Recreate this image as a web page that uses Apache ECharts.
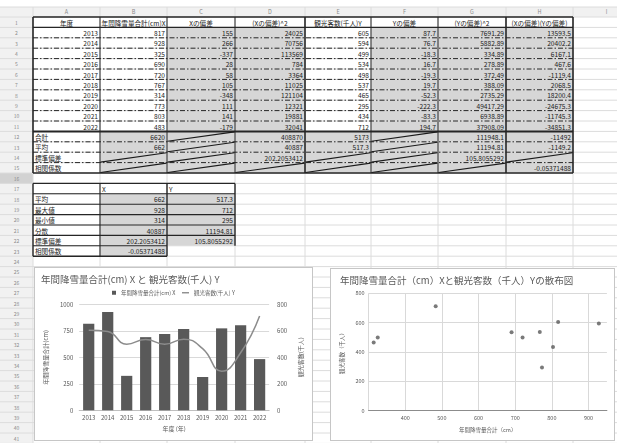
<!DOCTYPE html>
<html>
<head>
<meta charset="utf-8">
<script src="https://cdn.jsdelivr.net/npm/echarts@6.0.0/dist/echarts.min.js"></script>
<style>
  html, body { margin: 0; padding: 0; background: #fff; }
  body { width: 617px; height: 443px; overflow: hidden; position: relative; font-family: "Noto Sans CJK JP", "Noto Sans", sans-serif; }
  #sheet { position: absolute; left: 0; top: 0; }
  .chartBox { position: absolute; box-sizing: border-box; border: 1px solid #c6c6c6; background: #fff; }
  .chartBox > div { position: absolute; left: 0; top: 0; right: 0; bottom: 0; }
</style>
</head>
<body>
<svg id="sheet" width="617" height="443" xmlns="http://www.w3.org/2000/svg"></svg>
<div class="chartBox" style="left:34px;top:267px;width:279px;height:174px;"><div id="combo"></div></div>
<div class="chartBox" style="left:330px;top:268px;width:285px;height:173px;"><div id="scatter"></div></div>

<script>
// ---- data ----
const years = [2013, 2014, 2015, 2016, 2017, 2018, 2019, 2020, 2021, 2022];
const snowfall = [817, 928, 325, 690, 720, 767, 314, 773, 803, 483];      // 年間降雪量合計(cm) X
const visitors = [605, 594, 499, 534, 498, 537, 465, 295, 434, 712];      // 観光客数(千人) Y

const headerLabels = ['年度', '年間降雪量合計(cm)X', 'Xの偏差', '(Xの偏差)^2', '観光客数(千人)Y', 'Yの偏差', '(Yの偏差)^2', '(Xの偏差)(Yの偏差)'];
const summaryLabels = ['合計', '平均', '標準偏差', '相関係数'];
const statLabels = ['平均', '最大値', '最小値', '分散', '標準偏差', '相関係数'];
const colLetters = ['A', 'B', 'C', 'D', 'E', 'F', 'G', 'H', 'I'];

const snowTicks = { min: 0, max: 1000, interval: 250 };
const visitorTicks = { min: 0, max: 800, interval: 200 };
const scatterXTicks = { min: 300, max: 950, interval: 100 };

const FONT = '"Noto Sans CJK JP", "Noto Sans", sans-serif';
const S1 = '年間降雪量合計(cm) X';
const S2 = '観光客数(千人) Y';

// ---- worksheet statistics ----
const clean = v => parseFloat(v.toPrecision(12));
const n = years.length;
const sum = a => clean(a.reduce((s, v) => s + v, 0));
const meanX = clean(sum(snowfall) / n), meanY = clean(sum(visitors) / n);
const dx = snowfall.map(v => clean(v - meanX));
const dy = visitors.map(v => clean(v - meanY));
const dx2 = dx.map(v => clean(v * v));
const dy2 = dy.map(v => clean(v * v));
const dxy = dx.map((v, i) => clean(v * dy[i]));
const varX = clean(sum(dx2) / n), varY = clean(sum(dy2) / n), cov = clean(sum(dxy) / n);
const sdX = Math.sqrt(varX), sdY = Math.sqrt(varY);
const corr = cov / (sdX * sdY);

function fmt(v) {
  let s = String(clean(v));
  if (s.length > 11) {
    const intLen = String(Math.trunc(Math.abs(v))).length + (v < 0 ? 1 : 0);
    const dec = Math.max(0, 11 - intLen - 1);
    s = String(parseFloat(v.toFixed(dec)));
  }
  return s;
}

// ---- worksheet drawing ----
const COLX = [33, 100, 167, 235, 305, 371, 438, 506, 573, 640];
const HEAD_Y = 7, ROW_Y0 = 17, RH = 10.4, NROWS = 41;
const rowTop = r => ROW_Y0 + (r - 1) * RH;
const svg = document.getElementById('sheet');
const NS = 'http://www.w3.org/2000/svg';
function el(tag, attrs, text) {
  const e = document.createElementNS(NS, tag);
  for (const k in attrs) e.setAttribute(k, attrs[k]);
  if (text !== undefined) e.textContent = text;
  svg.appendChild(e);
  return e;
}
function line(x1, y1, x2, y2, w, color, dash) {
  const a = { x1, y1, x2, y2, stroke: color || '#262626', 'stroke-width': w || 1 };
  if (dash) a['stroke-dasharray'] = dash;
  el('line', a);
}
function fill(c1, r1, c2, r2, color) {
  el('rect', { x: COLX[c1], y: rowTop(r1), width: COLX[c2 + 1] - COLX[c1], height: rowTop(r2 + 1) - rowTop(r1), fill: color });
}
function cell(c, r, text, align) {
  const y = rowTop(r) + RH / 2 + 0.3;
  let x, anchor;
  if (align === 'left') { x = COLX[c] + 2; anchor = 'start'; }
  else if (align === 'center') { x = (COLX[c] + COLX[c + 1]) / 2; anchor = 'middle'; }
  else { x = COLX[c + 1] - 2; anchor = 'end'; }
  el('text', { x, y, 'text-anchor': anchor, 'dominant-baseline': 'central', 'font-size': 6.6, fill: '#1a1a1a', 'font-family': FONT }, text);
}

// headers background
el('rect', { x: 0, y: HEAD_Y, width: 617, height: ROW_Y0 - HEAD_Y, fill: '#f1f1f1' });
el('rect', { x: 0, y: ROW_Y0, width: COLX[0], height: 443 - ROW_Y0, fill: '#f1f1f1' });
el('rect', { x: 0, y: rowTop(16), width: COLX[0], height: RH, fill: '#d2d2d2' });

// gray calculation cells
const GRAY = '#d6d6d6';
fill(2, 2, 3, 11, GRAY);
fill(5, 2, 7, 11, GRAY);
fill(1, 12, 7, 15, GRAY);
fill(1, 18, 2, 22, GRAY);
fill(1, 23, 1, 23, GRAY);

// light grid
for (let r = 1; r <= NROWS + 1; r++) line(0, rowTop(r), 617, rowTop(r), 1, '#dcdcdc');
line(0, HEAD_Y, 617, HEAD_Y, 1, '#dcdcdc');
for (const x of COLX) line(x, HEAD_Y, x, 443, 1, '#dcdcdc');

// column letters and row numbers
colLetters.forEach((L, i) => el('text', { x: (COLX[i] + COLX[i + 1]) / 2, y: (HEAD_Y + ROW_Y0) / 2, 'text-anchor': 'middle', 'dominant-baseline': 'central', 'font-size': 5.5, fill: '#8a8a8a', 'font-family': FONT }, L));
for (let r = 1; r <= NROWS; r++) el('text', { x: COLX[0] / 2, y: rowTop(r) + RH / 2, 'text-anchor': 'middle', 'dominant-baseline': 'central', 'font-size': 5, fill: '#8a8a8a', 'font-family': FONT }, String(r));

// main table contents
headerLabels.forEach((h, i) => cell(i, 1, h, 'center'));
years.forEach((y, i) => {
  const r = i + 2;
  cell(0, r, String(y));
  cell(1, r, fmt(snowfall[i]));
  cell(2, r, fmt(dx[i]));
  cell(3, r, fmt(dx2[i]));
  cell(4, r, fmt(visitors[i]));
  cell(5, r, fmt(dy[i]));
  cell(6, r, fmt(dy2[i]));
  cell(7, r, fmt(dxy[i]));
});
summaryLabels.forEach((s, i) => cell(0, 12 + i, s, 'left'));
cell(1, 12, fmt(sum(snowfall))); cell(3, 12, fmt(sum(dx2))); cell(4, 12, fmt(sum(visitors))); cell(6, 12, fmt(sum(dy2))); cell(7, 12, fmt(sum(dxy)));
cell(1, 13, fmt(meanX)); cell(3, 13, fmt(varX)); cell(4, 13, fmt(meanY)); cell(6, 13, fmt(varY)); cell(7, 13, fmt(cov));
cell(3, 14, fmt(sdX)); cell(6, 14, fmt(sdY));
cell(7, 15, fmt(corr));

// main table borders
const T1 = rowTop(1), T16 = rowTop(16);
for (let c = 0; c <= 8; c++) {
  const thick = (c === 0 || c === 4 || c === 7 || c === 8);
  line(COLX[c], T1, COLX[c], T16, thick ? 1.6 : 1);
}
line(COLX[0], T1, COLX[8], T1, 1.4);
line(COLX[0], rowTop(2), COLX[8], rowTop(2), 1.2);
for (let r = 3; r <= 11; r++) line(COLX[0], rowTop(r), COLX[8], rowTop(r), 1, '#262626', '5 2 1.5 2');
line(COLX[0], rowTop(12), COLX[8], rowTop(12), 2);
for (let r = 13; r <= 15; r++) line(COLX[0], rowTop(r), COLX[8], rowTop(r), 1, '#262626', '5 2 1.5 2');
line(COLX[0], T16, COLX[8], T16, 1.6);

// cells struck through with a diagonal
const struck = [[2, 12], [5, 12], [2, 13], [5, 13], [1, 14], [2, 14], [4, 14], [5, 14], [7, 14], [1, 15], [2, 15], [3, 15], [4, 15], [5, 15], [6, 15]];
struck.forEach(([c, r]) => line(COLX[c] + 0.5, rowTop(r + 1) - 0.5, COLX[c + 1] - 0.5, rowTop(r) + 0.5, 1.1, '#1a1a1a'));

// statistics table
cell(1, 17, 'X', 'left'); cell(2, 17, 'Y', 'left');
statLabels.forEach((s, i) => cell(0, 18 + i, s, 'left'));
cell(1, 18, fmt(meanX)); cell(2, 18, fmt(meanY));
cell(1, 19, fmt(Math.max(...snowfall))); cell(2, 19, fmt(Math.max(...visitors)));
cell(1, 20, fmt(Math.min(...snowfall))); cell(2, 20, fmt(Math.min(...visitors)));
cell(1, 21, fmt(varX)); cell(2, 21, fmt(varY));
cell(1, 22, fmt(sdX)); cell(2, 22, fmt(sdY));
cell(1, 23, fmt(corr));
for (let r = 18; r <= 23; r++) line(COLX[0], rowTop(r), COLX[r === 23 ? 2 : 3], rowTop(r), 1.1);
line(COLX[0], rowTop(17), COLX[3], rowTop(17), 1.4);
line(COLX[0], rowTop(24), COLX[2], rowTop(24), 1.4);
line(COLX[0], rowTop(17), COLX[0], rowTop(24), 1.4);
line(COLX[1], rowTop(17), COLX[1], rowTop(24), 1.1);
line(COLX[2], rowTop(17), COLX[2], rowTop(24), 1.4);
line(COLX[3], rowTop(17), COLX[3], rowTop(23), 1.4);

// ---- chart: snowfall bars with visitors line ----
const plain = v => String(v);
const axisText = { fontSize: 6, color: '#595959', fontFamily: FONT };
const combo = echarts.init(document.getElementById('combo'), null, { renderer: 'canvas' });
combo.setOption({
  animation: false,
  textStyle: { fontFamily: FONT },
  title: {
    text: '年間降雪量合計(cm) X と 観光客数(千人) Y', left: 6, top: 7, padding: 0,
    textStyle: { fontSize: 9.5, fontWeight: 'normal', color: '#595959', fontFamily: FONT }
  },
  legend: [
    { data: [{ name: S1, icon: 'rect' }], left: 77, top: 22, padding: 0, itemWidth: 4, itemHeight: 4, textStyle: { fontSize: 5.5, color: '#595959', fontFamily: FONT } },
    { data: [{ name: S2, icon: 'rect' }], left: 147, top: 22, padding: 0, itemWidth: 7, itemHeight: 1.4, textStyle: { fontSize: 5.5, color: '#595959', fontFamily: FONT } }
  ],
  grid: { left: 40.8, right: 38.8, top: 36.3, bottom: 29.7 },
  xAxis: {
    type: 'category', data: years.map(String),
    axisLine: { lineStyle: { color: '#bfbfbf' } }, axisTick: { show: false },
    axisLabel: Object.assign({ margin: 4 }, axisText),
    name: '年度 (年)', nameLocation: 'middle', nameGap: 15, nameTextStyle: axisText
  },
  yAxis: [
    Object.assign({
      type: 'value', axisLine: { show: false }, axisTick: { show: false },
      axisLabel: Object.assign({ margin: 6, formatter: plain }, axisText),
      splitLine: { lineStyle: { color: '#d9d9d9', width: 1 } },
      name: '年間降雪量合計(cm)', nameLocation: 'middle', nameRotate: 90, nameGap: 26, nameTextStyle: axisText
    }, snowTicks),
    Object.assign({
      type: 'value', position: 'right', axisLine: { show: false }, axisTick: { show: false },
      axisLabel: Object.assign({ margin: 8, formatter: plain }, axisText), splitLine: { show: false },
      name: '観光客数(千人)', nameLocation: 'middle', nameRotate: 90, nameGap: 23, nameTextStyle: axisText
    }, visitorTicks)
  ],
  series: [
    { type: 'bar', name: S1, data: snowfall, barWidth: '59%', itemStyle: { color: '#595959' } },
    { type: 'line', name: S2, yAxisIndex: 1, data: visitors, smooth: true, showSymbol: false,
      lineStyle: { color: '#8c8c8c', width: 1.5 }, itemStyle: { color: '#8c8c8c' } }
  ]
});

// ---- chart: scatter of snowfall vs visitors ----
const scatter = echarts.init(document.getElementById('scatter'), null, { renderer: 'canvas' });
scatter.setOption({
  animation: false,
  textStyle: { fontFamily: FONT },
  title: {
    text: '年間降雪量合計（cm）Xと観光客数（千人）Yの散布図', left: 9, top: 7, padding: 0,
    textStyle: { fontSize: 9.5, fontWeight: 'normal', color: '#595959', fontFamily: FONT }
  },
  grid: { left: 34.1, right: 7.1, top: 24.3, bottom: 29.3 },
  xAxis: Object.assign({
    type: 'value',
    axisLine: { show: true, onZero: false, lineStyle: { color: '#8c8c8c' } }, axisTick: { show: false },
    axisLabel: Object.assign({ margin: 4, showMinLabel: false, showMaxLabel: false, formatter: plain }, axisText, { fontSize: 5.5 }),
    splitLine: { show: true, showMaxLine: false, lineStyle: { color: '#d9d9d9' } },
    name: '年間降雪量合計（cm）', nameLocation: 'middle', nameGap: 16, nameTextStyle: Object.assign({}, axisText, { fontSize: 5.5 })
  }, scatterXTicks),
  yAxis: Object.assign({
    type: 'value', axisLine: { show: false }, axisTick: { show: false },
    axisLabel: Object.assign({ margin: 4, formatter: plain }, axisText, { fontSize: 5.5 }),
    splitLine: { lineStyle: { color: '#d9d9d9' } },
    name: '観光客数（千人）', nameLocation: 'middle', nameRotate: 90, nameGap: 20, nameTextStyle: Object.assign({}, axisText, { fontSize: 5.5 })
  }, visitorTicks),
  series: [{
    type: 'scatter', data: snowfall.map((x, i) => [x, visitors[i]]),
    symbolSize: 4, itemStyle: { color: '#595959' }
  }]
});
</script>
</body>
</html>
